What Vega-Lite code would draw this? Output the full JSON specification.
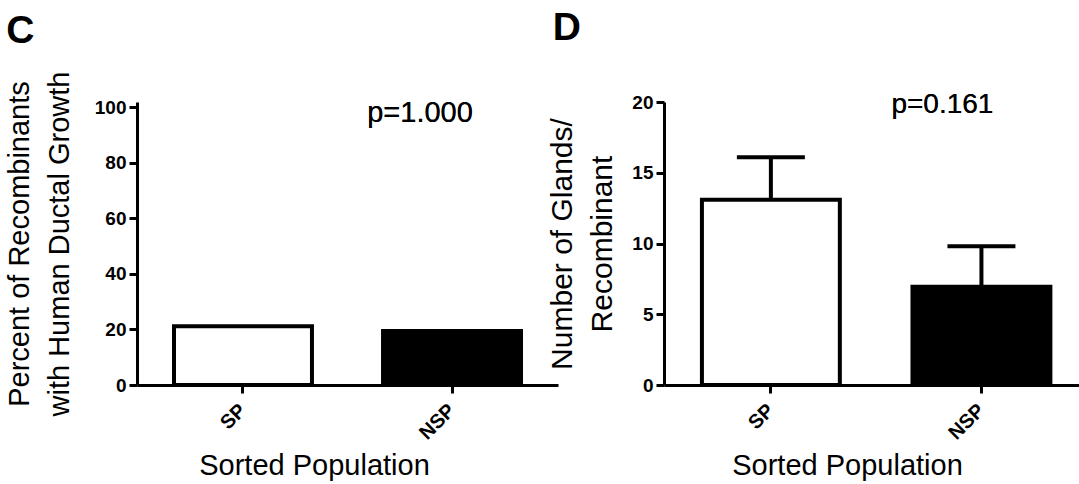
{
  "$schema": "https://vega.github.io/schema/vega-lite/v6.json",
  "padding": {"left": 5, "top": 9, "right": 0, "bottom": 0},
  "spacing": -11,
  "background": "white",
  "datasets": {
    "c": [
      {"group": "SP", "value": 21.1},
      {"group": "NSP", "value": 19.4}
    ],
    "d": [
      {"group": "SP", "value": 13.1, "upper": 16.1},
      {"group": "NSP", "value": 6.95, "upper": 9.8}
    ]
  },
  "config": {
    "view": {"stroke": null},
    "font": "Liberation Sans",
    "axis": {
      "grid": false,
      "domainColor": "black",
      "domainWidth": 3,
      "tickColor": "black",
      "tickWidth": 3,
      "tickSize": 8,
      "labelColor": "black",
      "titleColor": "black",
      "labelFont": "Liberation Sans",
      "titleFont": "Liberation Sans",
      "titleFontWeight": "normal",
      "labelFontWeight": "bold"
    },
    "title": {"font": "Liberation Sans", "fontSize": 39, "fontWeight": "bold", "anchor": "start", "color": "black", "baseline": "alphabetic"}
  },
  "hconcat": [
    {
      "width": 421,
      "height": 283,
      "title": {"text": "C", "offset": 20.5, "dx": 1},
      "data": {"name": "c"},
      "layer": [
        {
          "mark": {"type": "bar", "stroke": "black", "strokeWidth": 4},
          "encoding": {
            "x": {
              "field": "group", "type": "nominal", "sort": ["SP", "NSP"],
              "scale": {"paddingInner": 0.34, "paddingOuter": 0.177},
              "axis": {"title": "Sorted Population", "labelAngle": -45, "labelFontSize": 20, "labelAlign": "right", "labelBaseline": "middle", "labelPadding": 14, "titleFontSize": 29, "titlePadding": 8, "titleX": 177}
            },
            "y": {
              "field": "value", "type": "quantitative",
              "scale": {"domain": [0, 101.8], "nice": false},
              "axis": {"title": ["Percent of Recombinants", "with Human Ductal Growth"], "values": [0, 20, 40, 60, 80, 100], "labelFontSize": 19, "titleFontSize": 29, "titleLineHeight": 40, "labelPadding": 3, "titlePadding": 20}
            },
            "fill": {"field": "group", "type": "nominal", "scale": {"domain": ["SP", "NSP"], "range": ["white", "black"]}, "legend": null}
          }
        },
        {
          "mark": {"type": "text", "fontSize": 29, "font": "Liberation Sans", "align": "center", "baseline": "alphabetic", "dx": -32, "color": "black"},
          "encoding": {
            "x": {"datum": "NSP", "type": "nominal"},
            "y": {"datum": 94.5, "type": "quantitative"},
            "text": {"value": "p=1.000"}
          }
        }
      ]
    },
    {
      "width": 415,
      "height": 283,
      "title": {"text": "D", "offset": 43, "dx": 5},
      "data": {"name": "d"},
      "layer": [
        {
          "mark": {"type": "rule", "strokeWidth": 4, "color": "black"},
          "encoding": {
            "x": {"field": "group", "type": "nominal", "sort": ["SP", "NSP"]},
            "y": {"field": "value", "type": "quantitative"},
            "y2": {"field": "upper"}
          }
        },
        {
          "mark": {"type": "tick", "size": 68, "thickness": 4, "color": "black", "opacity": 1, "orient": "horizontal"},
          "encoding": {
            "x": {"field": "group", "type": "nominal", "sort": ["SP", "NSP"]},
            "y": {"field": "upper", "type": "quantitative"}
          }
        },
        {
          "mark": {"type": "bar", "stroke": "black", "strokeWidth": 4},
          "encoding": {
            "x": {
              "field": "group", "type": "nominal", "sort": ["SP", "NSP"],
              "scale": {"paddingInner": 0.345, "paddingOuter": 0.158, "align": 0.57},
              "axis": {"title": "Sorted Population", "labelAngle": -45, "labelFontSize": 20, "labelAlign": "right", "labelBaseline": "middle", "labelPadding": 14, "titleFontSize": 29, "titlePadding": 8, "titleX": 183}
            },
            "y": {
              "field": "value", "type": "quantitative",
              "scale": {"domain": [0, 20], "nice": false},
              "axis": {"title": ["Number of Glands/", "Recombinant"], "values": [0, 5, 10, 15, 20], "labelFontSize": 19, "titleFontSize": 30, "titleLineHeight": 40, "labelPadding": 3, "titlePadding": 14}
            },
            "fill": {"field": "group", "type": "nominal", "scale": {"domain": ["SP", "NSP"], "range": ["white", "black"]}, "legend": null}
          }
        },
        {
          "mark": {"type": "text", "fontSize": 28, "font": "Liberation Sans", "align": "center", "baseline": "alphabetic", "dx": -39, "color": "black"},
          "encoding": {
            "x": {"datum": "NSP", "type": "nominal"},
            "y": {"datum": 19.2, "type": "quantitative"},
            "text": {"value": "p=0.161"}
          }
        }
      ]
    }
  ]
}
